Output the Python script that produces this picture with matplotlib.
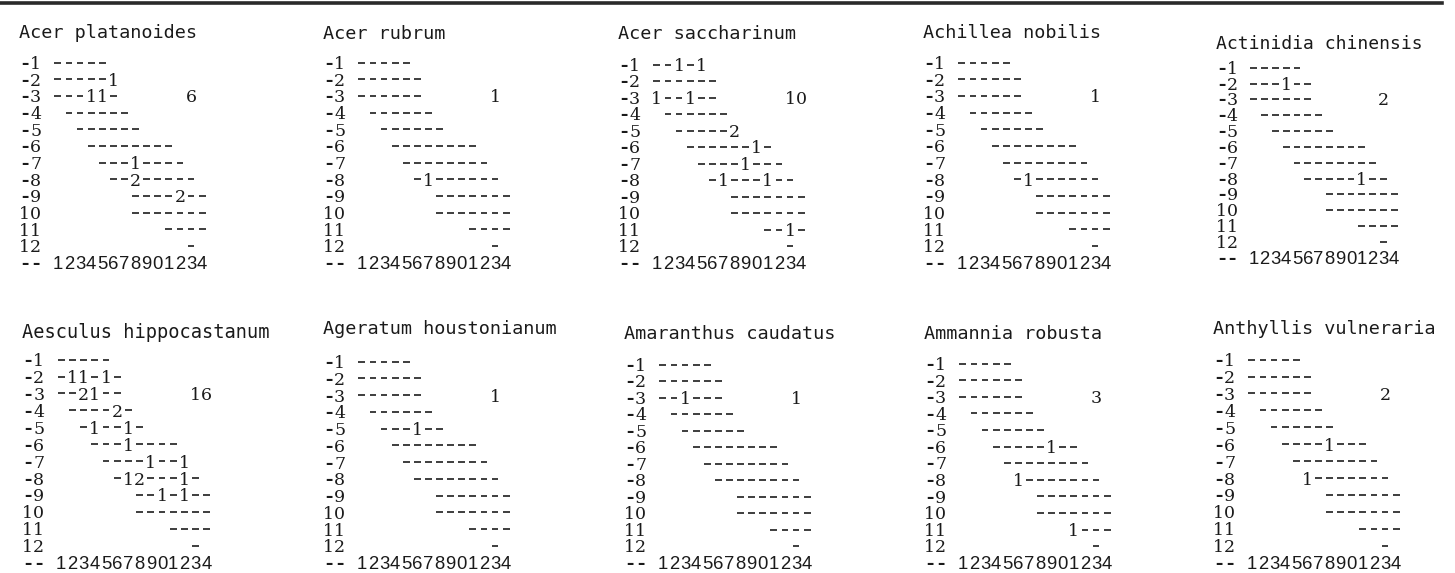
import matplotlib.pyplot as plt
from matplotlib.lines import Line2D

species = ['Acer platanoides', 'Acer rubrum', 'Acer saccharinum',
           'Achillea nobilis', 'Actinidia chinensis',
           'Aesculus hippocastanum', 'Ageratum houstonianum',
           'Amaranthus caudatus', 'Ammannia robusta', 'Anthyllis vulneraria']
totals = [6, 1, 10, 1, 2, 16, 1, 1, 3, 2]

row_labels = ['-1', '-2', '-3', '-4', '-5', '-6', '-7', '-8', '-9', '10', '11', '12']
row_first = [1, 1, 1, 2, 3, 4, 5, 6, 8, 8, 11, 13]
row_last = [5, 6, 6, 7, 8, 11, 12, 13, 14, 14, 14, 13]
col_labels = list('12345678901234')

# (row, column, count); row 1 is the '-1' line, column 1 is the first grid cell
marks = [
    [(2, 6, 1), (3, 4, 1), (3, 5, 1), (7, 8, 1), (8, 8, 2), (9, 12, 2)],
    [(8, 7, 1)],
    [(1, 3, 1), (1, 5, 1), (3, 1, 1), (3, 4, 1), (5, 8, 2), (6, 10, 1),
     (7, 9, 1), (8, 7, 1), (8, 11, 1), (11, 13, 1)],
    [(8, 7, 1)],
    [(2, 4, 1), (8, 11, 1)],
    [(2, 2, 1), (2, 3, 1), (2, 5, 1), (3, 3, 2), (3, 4, 1), (4, 6, 2),
     (5, 4, 1), (5, 7, 1), (6, 7, 1), (7, 9, 1), (7, 12, 1), (8, 7, 1),
     (8, 8, 2), (8, 12, 1), (9, 10, 1), (9, 12, 1)],
    [(5, 6, 1)],
    [(3, 3, 1)],
    [(6, 9, 1), (8, 6, 1), (11, 11, 1)],
    [(6, 8, 1), (8, 6, 1)],
]

# panel placement in pixels: left, title y, first row y, last row y, char width
panels = [(19, 32, 63, 263, 11.1), (323, 33, 63, 263, 11.1), (618, 33, 65, 263, 11.1),
          (923, 32, 63, 263, 11.1), (1216, 43, 68, 258, 10.8),
          (22, 332, 360, 563, 11.2), (323, 328, 362, 563, 11.1), (624, 333, 365, 563, 11.1),
          (924, 333, 364, 563, 11.1), (1213, 328, 360, 563, 11.1)]

W, H = 1455, 573
ink = '#1a1a1a'
mono = 'DejaVu Sans Mono'
serif = 'DejaVu Serif'
sans = 'Liberation Sans'
base = 0.36   # baseline offset below row centre, in rows

fig = plt.figure(figsize=(W / 100, H / 100), dpi=100)
fig.add_artist(Line2D([0, 0.991], [0.9945, 0.9945], transform=fig.transFigure,
                      color='#2a2a2a', lw=2.6))


def put(ax, i, r, ch, family, size, **kw):
    ax.text(i + 0.5, r + base, ch, ha='center', va='baseline',
            family=family, fontsize=size, color=ink, **kw)


def digit(ax, i, r, ch):
    put(ax, i, r, ch, serif, 12.5)


for k, name in enumerate(species):
    x0, ty, y1, yl, cw = panels[k]
    rh = (yl - y1) / 12
    top, bot = ty - 18, yl + 12
    ax = fig.add_axes([x0 / W, 1 - bot / H, 21 * cw / W, (bot - top) / H])
    ax.set_xlim(0, 21)
    ax.set_ylim((bot - y1) / rh, (top - y1) / rh)
    ax.axis('off')

    ax.text(0, (ty - y1) / rh + base, name, ha='left', va='baseline',
            family=mono, fontsize=13.3 * cw / 11.1, color=ink)

    counts = {(r, c): v for r, c, v in marks[k]}
    dash_x, dash_y = [], []
    for r, lab in enumerate(row_labels):
        for j, ch in enumerate(lab):
            if ch == '-':
                put(ax, j, r, ch, mono, 13.3, fontweight='bold')
            else:
                digit(ax, j, r, ch)
        for c in range(row_first[r], row_last[r] + 1):
            v = counts.get((r + 1, c))
            if v is None:
                dash_x.append(2 + c + 0.5)
                dash_y.append(r)
            else:
                digit(ax, 2 + c, r, str(v))
    # the empty cells of the table: short dashes
    ax.hlines([y - 0.02 for y in dash_y], [x - 0.31 for x in dash_x],
              [x + 0.31 for x in dash_x], colors='#262626', lw=1.25, capstyle='butt')

    # species total on the '-3' line, from column 13
    for j, ch in enumerate(str(totals[k])):
        digit(ax, 15 + j, 2, ch)

    put(ax, 0, 12, '-', mono, 13.3, fontweight='bold')
    put(ax, 1, 12, '-', mono, 13.3, fontweight='bold')
    for c, ch in enumerate(col_labels, start=1):
        put(ax, 2 + c, 12, ch, sans, 13.3)

fig.savefig('out.png', dpi=100, facecolor='white')
